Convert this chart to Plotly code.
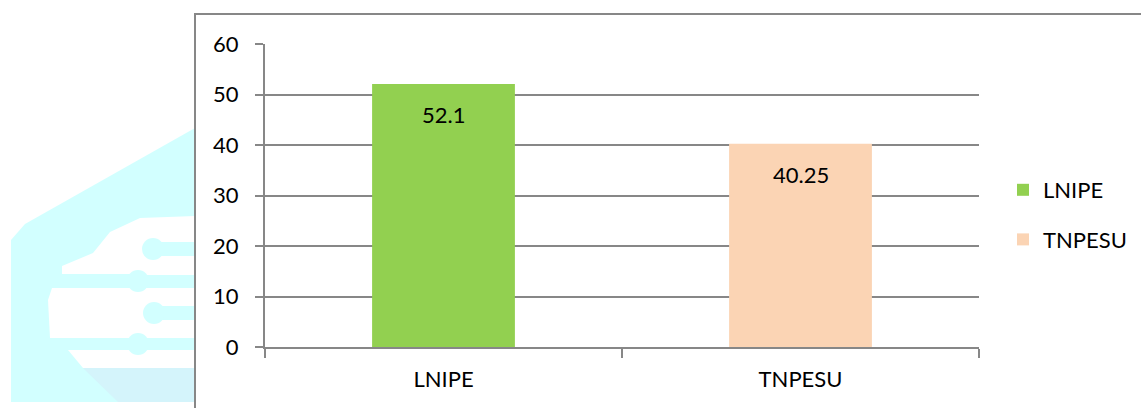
import plotly.graph_objects as go

categories = ["LNIPE", "TNPESU"]
values = [52.1, 40.25]
colors = ["#92D050", "#FBD4B4"]
y_ticks = [0, 10, 20, 30, 40, 50, 60]

W, H = 1141, 408
L, R, T, B = 265, 162, 44, 61
PW, PH = W - L - R, H - T - B
FS = 22


def px(x):
    return (x - L) / PW


def py(y):
    return (H - B - y) / PH


def path(points, close=True):
    s = "M " + " L ".join(f"{px(x):.5f},{py(y):.5f}" for x, y in points)
    return s + (" Z" if close else "")


fig = go.Figure()
for i, (cat, val, col) in enumerate(zip(categories, values, colors)):
    fig.add_trace(go.Bar(
        x=[cat], y=[val], name=cat, marker=dict(color=col, line=dict(width=0)),
        width=0.4, legendgroup=f"g{i}", showlegend=True,
    ))
    fig.add_annotation(x=cat, y=val, text=f"{val:g}", showarrow=False,
                       yshift=-31, font=dict(size=FS, color="#000000"))

shapes = []
CY = "#D2FFFF"
# watermark background polygon
shapes.append(dict(type="path", xref="paper", yref="paper", layer="below", line=dict(width=0),
                   fillcolor=CY,
                   path=path([(11, 402), (11, 240), (25, 224), (195, 128), (195, 402)])))
shapes.append(dict(type="path", xref="paper", yref="paper", layer="below", line=dict(width=0),
                   fillcolor="#D4F4FB",
                   path=path([(83, 368), (195, 368), (195, 402), (118, 402)])))
# white cloud parts
shapes.append(dict(type="path", xref="paper", yref="paper", layer="below", line=dict(width=0),
                   fillcolor="#FFFFFF",
                   path=path([(62, 275), (62, 266), (93, 253), (110, 232), (140, 218), (195, 216),
                              (195, 275)])))
shapes.append(dict(type="path", xref="paper", yref="paper", layer="below", line=dict(width=0),
                   fillcolor="#FFFFFF",
                   path=path([(50, 338), (48, 300), (52, 288), (195, 288), (195, 338)])))
shapes.append(dict(type="path", xref="paper", yref="paper", layer="below", line=dict(width=0),
                   fillcolor="#FFFFFF",
                   path=path([(68, 350), (195, 350), (195, 368), (83, 368)])))
# cyan connectors
for (cx, cy, x0, x1, h) in [(153, 249, 153, 195, 7), (138, 281, 62, 138, 7),
                            (154, 313, 154, 195, 7), (138, 344, 50, 138, 6)]:
    shapes.append(dict(type="path", xref="paper", yref="paper", layer="below", line=dict(width=0),
                       fillcolor=CY, path=path([(x0, cy - h), (x1, cy - h), (x1, cy + h), (x0, cy + h)])))
    shapes.append(dict(type="circle", xref="paper", yref="paper", layer="below", line=dict(width=0),
                       fillcolor=CY, x0=px(cx - 11), x1=px(cx + 11), y0=py(cy + 11), y1=py(cy - 11)))
# chart box
shapes.append(dict(type="rect", xref="paper", yref="paper", layer="below",
                   line=dict(color="#878787", width=2), fillcolor="#FFFFFF",
                   x0=px(195), x1=px(1150), y0=py(416), y1=py(14)))

fig.update_layout(
    width=W, height=H,
    margin=dict(l=L, r=R, t=T, b=B, autoexpand=False),
    paper_bgcolor="#FFFFFF", plot_bgcolor="rgba(0,0,0,0)",
    font=dict(family="Lato, Carlito, sans-serif", size=FS, color="#000000"),
    barmode="overlay",
    shapes=shapes,
    showlegend=True,
    legend=dict(x=px(1003), y=py(169), xanchor="left", yanchor="top",
                font=dict(size=FS), tracegroupgap=18, bgcolor="rgba(0,0,0,0)",
                itemclick=False),
    xaxis=dict(categoryorder="array", categoryarray=categories,
               showline=True, linecolor="#878787", linewidth=2,
               ticks="outside", tickson="boundaries", ticklen=9, tickwidth=2, tickcolor="#878787",
               ticklabelstandoff=12, showgrid=False, zeroline=False, fixedrange=True),
    yaxis=dict(range=[0, 60], tickvals=y_ticks, ticktext=[str(v) for v in y_ticks],
               showline=True, linecolor="#878787", linewidth=2,
               ticks="outside", ticklen=8, tickwidth=2, tickcolor="#878787",
               showgrid=True, gridcolor="#878787", gridwidth=2, zeroline=False,
               ticklabelstandoff=12, fixedrange=True),
)

fig.write_html("out.html")
